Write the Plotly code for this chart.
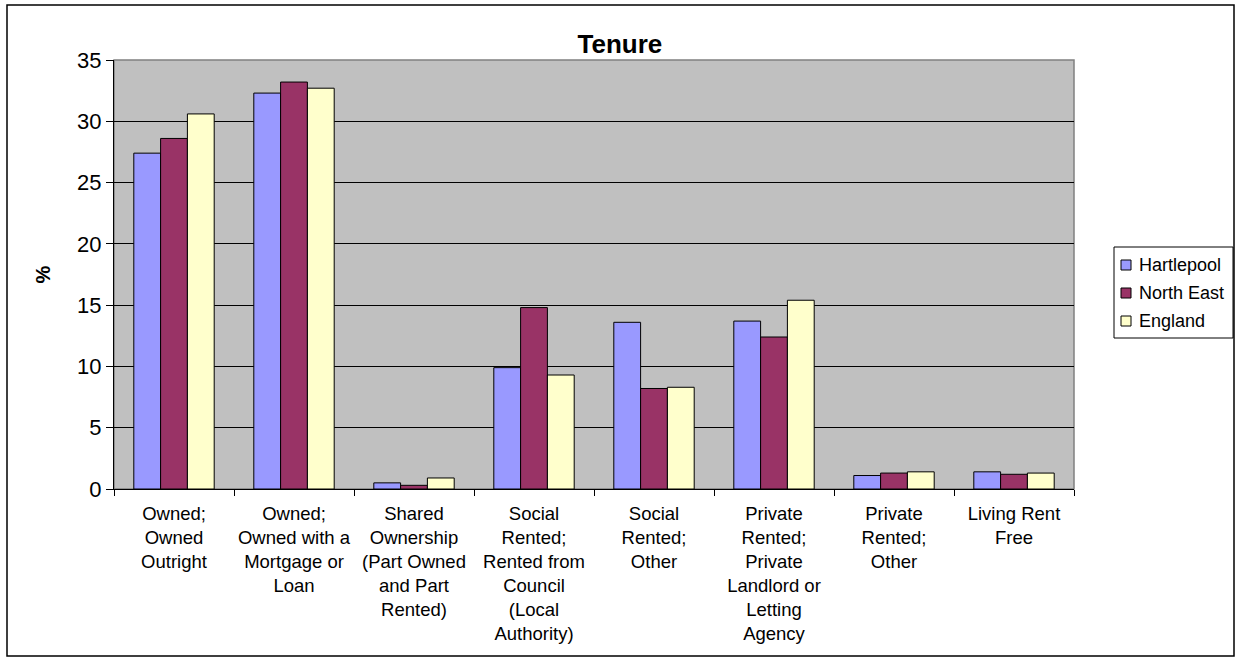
import plotly.graph_objects as go

categories = [
    "Owned;<br>Owned<br>Outright",
    "Owned;<br>Owned with a<br>Mortgage or<br>Loan",
    "Shared<br>Ownership<br>(Part Owned<br>and Part<br>Rented)",
    "Social<br>Rented;<br>Rented from<br>Council<br>(Local<br>Authority)",
    "Social<br>Rented;<br>Other",
    "Private<br>Rented;<br>Private<br>Landlord or<br>Letting<br>Agency",
    "Private<br>Rented;<br>Other",
    "Living Rent<br>Free",
]

hartlepool = [27.4, 32.3, 0.5, 9.9, 13.6, 13.7, 1.1, 1.4]
north_east = [28.6, 33.2, 0.3, 14.8, 8.2, 12.4, 1.3, 1.2]
england = [30.6, 32.7, 0.9, 9.3, 8.3, 15.4, 1.4, 1.3]

series = [
    ("Hartlepool", hartlepool, "#9999FF"),
    ("North East", north_east, "#993366"),
    ("England", england, "#FFFFCC"),
]

FONT = "Liberation Sans, Arial, sans-serif"
W, H = 1236, 657
L, R, T, B = 114, 162, 60, 168
PW, PH = W - L - R, H - T - B


def px(x):
    """Page x pixel -> paper coordinate."""
    return (x - L) / PW


def py(y):
    """Page y pixel -> paper coordinate."""
    return 1 - (y - T) / PH


fig = go.Figure()
for name, vals, color in series:
    fig.add_trace(go.Bar(
        name=name, x=categories, y=vals,
        marker=dict(color=color, line=dict(color="black", width=1)),
        showlegend=False,
    ))

fig.update_layout(
    width=W, height=H,
    margin=dict(l=L, r=R, t=T, b=B, autoexpand=False),
    paper_bgcolor="white",
    plot_bgcolor="#C0C0C0",
    barmode="group",
    bargap=0.33,
    bargroupgap=0,
    font=dict(family=FONT, color="black"),
    title=dict(
        text="<b>Tenure</b>", x=0.5015, xanchor="center",
        yref="container", y=1 - 44 / H, yanchor="middle",
        font=dict(size=26, family=FONT, color="black"),
    ),
)

fig.update_yaxes(
    range=[0, 35], dtick=5, tick0=0,
    showgrid=True, gridcolor="black", gridwidth=1,
    zeroline=False,
    showline=True, linecolor="black", linewidth=1,
    ticks="outside", ticklen=7, tickcolor="black",
    tickfont=dict(size=22, family=FONT),
)
fig.update_xaxes(
    showgrid=False,
    showline=True, linecolor="black", linewidth=1,
    ticks="outside", ticklen=6, tickcolor="black", tickson="boundaries",
    tickfont=dict(size=18.5, family=FONT),
    tickangle=0,
    ticklabelstandoff=8,
)

# Y axis title
fig.add_annotation(
    text="<b>%</b>", xref="paper", yref="paper",
    x=px(42), y=0.5, xanchor="center", yanchor="middle",
    textangle=-90, showarrow=False,
    font=dict(size=20, family=FONT, color="black"),
)

# Plot-area frame (grey) and outer chart frame (black)
fig.add_shape(type="rect", xref="paper", yref="paper",
              x0=0, x1=1, y0=0, y1=1,
              line=dict(color="#808080", width=1.5), layer="below")
fig.add_shape(type="rect", xref="paper", yref="paper",
              x0=px(7), x1=px(1234), y0=py(656), y1=py(5),
              line=dict(color="black", width=1.5))

# Legend box with swatches
fig.add_shape(type="rect", xref="paper", yref="paper",
              x0=px(1114), x1=px(1233), y0=py(338), y1=py(247),
              line=dict(color="black", width=1), fillcolor="white")
for i, (name, _, color) in enumerate(series):
    yc = 265 + 28 * i
    fig.add_shape(type="rect", xref="paper", yref="paper",
                  x0=px(1121), x1=px(1131), y0=py(yc + 5), y1=py(yc - 5),
                  line=dict(color="black", width=1), fillcolor=color)
    fig.add_annotation(text=name, xref="paper", yref="paper",
                       x=px(1137), y=py(yc), xanchor="left", yanchor="middle",
                       showarrow=False,
                       font=dict(size=18, family=FONT, color="black"))

fig.write_html("out.html")
